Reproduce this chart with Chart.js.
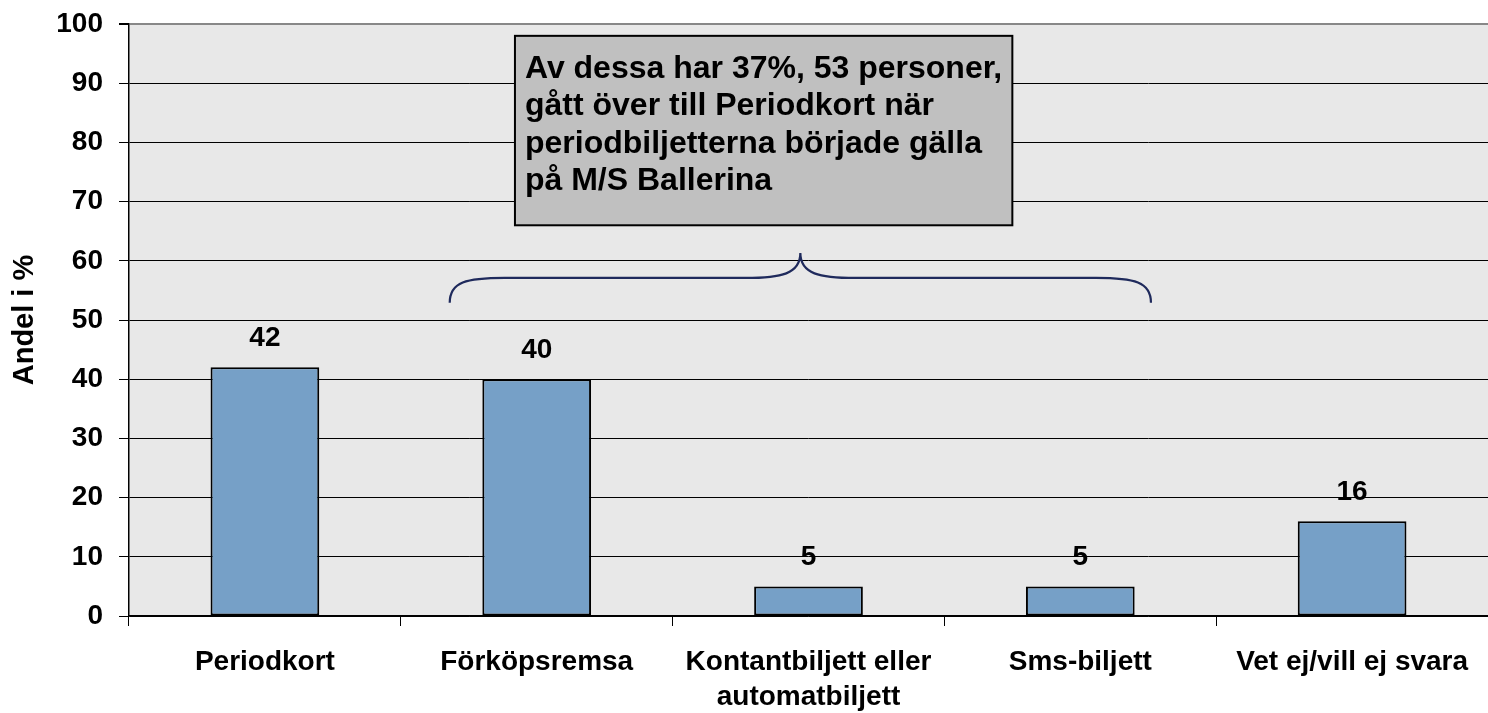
<!DOCTYPE html>
<html>
<head>
<meta charset="utf-8">
<script src="https://cdn.jsdelivr.net/npm/chart.js@4"></script>
<style>
  body { margin: 0; background: #fff; }
  #wrap { width: 1488px; height: 713px; }
</style>
</head>
<body>
<div id="wrap"><canvas id="myChart" width="1488" height="713"></canvas></div>
<script>
const categories = [
  "Periodkort",
  "Förköpsremsa",
  ["Kontantbiljett eller", "automatbiljett"],
  "Sms-biljett",
  "Vet ej/vill ej svara",
];
const values = [42, 40, 5, 5, 16];
const yTicks = [0, 10, 20, 30, 40, 50, 60, 70, 80, 90, 100];

const noteLines = [
  "Av dessa har 37%, 53 personer,",
  "gått över till Periodkort när",
  "periodbiljetterna började gälla",
  "på M/S Ballerina",
];
// box corners and brace points in data units (category index, percent)
const noteBox = { x1: 0.92, x2: 2.75, y1: 98, y2: 66 };
const brace = { left: 0.68, mid: 1.97, right: 3.26, top: 61.3, bar: 57.1, end: 52.9 };

const FONT = "'Liberation Sans', Arial, sans-serif";

// gray background behind plot area
const plotBg = {
  id: "plotBg",
  beforeDraw(chart) {
    const { ctx, chartArea: a } = chart;
    ctx.save();
    ctx.fillStyle = "#e8e8e8";
    ctx.fillRect(a.left, a.top, a.right - a.left, a.bottom - a.top);
    ctx.restore();
  },
};

// numbers above the bars
const barLabels = {
  id: "barLabels",
  afterDatasetsDraw(chart) {
    const ctx = chart.ctx;
    const meta = chart.getDatasetMeta(0);
    ctx.save();
    ctx.font = "bold 28px " + FONT;
    ctx.fillStyle = "#000";
    ctx.textAlign = "center";
    ctx.textBaseline = "middle";
    meta.data.forEach((bar, i) => {
      ctx.fillText(values[i], bar.x, bar.y - 29);
    });
    ctx.restore();
  },
};

// annotation box and curly brace
const note = {
  id: "note",
  afterDraw(chart) {
    const ctx = chart.ctx;
    const xs = chart.scales.x;
    const ys = chart.scales.y;
    ctx.save();

    const bx1 = xs.getPixelForValue(noteBox.x1);
    const bx2 = xs.getPixelForValue(noteBox.x2);
    const by1 = ys.getPixelForValue(noteBox.y1);
    const by2 = ys.getPixelForValue(noteBox.y2);
    ctx.fillStyle = "#c0c0c0";
    ctx.fillRect(bx1, by1, bx2 - bx1, by2 - by1);
    ctx.strokeStyle = "#000";
    ctx.lineWidth = 2;
    ctx.strokeRect(bx1, by1, bx2 - bx1, by2 - by1);

    ctx.fillStyle = "#000";
    ctx.font = "bold 32px " + FONT;
    ctx.textAlign = "left";
    ctx.textBaseline = "alphabetic";
    noteLines.forEach((t, i) => {
      ctx.fillText(t, bx1 + 10, by1 + 42 + i * 37.5);
    });

    const xl = xs.getPixelForValue(brace.left);
    const xm = xs.getPixelForValue(brace.mid);
    const xr = xs.getPixelForValue(brace.right);
    const yt = ys.getPixelForValue(brace.top);
    const yb = ys.getPixelForValue(brace.bar);
    const ye = ys.getPixelForValue(brace.end);
    const r = 55;
    ctx.strokeStyle = "#1f2a5c";
    ctx.lineWidth = 2.2;
    ctx.beginPath();
    ctx.moveTo(xl, ye);
    ctx.bezierCurveTo(xl, yb + 4, xl + r * 0.3, yb, xl + r, yb);
    ctx.lineTo(xm - r, yb);
    ctx.bezierCurveTo(xm - r * 0.35, yb, xm, yb - 4, xm, yt);
    ctx.bezierCurveTo(xm, yb - 4, xm + r * 0.35, yb, xm + r, yb);
    ctx.lineTo(xr - r, yb);
    ctx.bezierCurveTo(xr - r * 0.3, yb, xr, yb + 4, xr, ye);
    ctx.stroke();

    ctx.restore();
  },
};

new Chart(document.getElementById("myChart"), {
  type: "bar",
  data: {
    labels: categories,
    datasets: [
      {
        data: values,
        backgroundColor: "#76a0c7",
        borderColor: "#000",
        borderWidth: 2,
        borderSkipped: false,
        categoryPercentage: 1,
        barPercentage: 0.4,
      },
    ],
  },
  options: {
    responsive: false,
    animation: false,
    layout: { padding: 0 },
    plugins: {
      legend: { display: false },
      tooltip: { enabled: false },
    },
    scales: {
      x: {
        grid: {
          offset: true,
          drawOnChartArea: false,
          color: "#000",
          tickLength: 10,
        },
        border: { color: "#000", width: 1.5 },
        ticks: {
          color: "#000",
          font: { family: FONT, size: 28, weight: "bold", lineHeight: 1.25 },
          maxRotation: 0,
          padding: 19,
        },
        afterFit(scale) {
          scale.height = 97;
        },
      },
      y: {
        min: 0,
        max: 100,
        afterBuildTicks(scale) {
          scale.ticks = yTicks.map((v) => ({ value: v }));
        },
        grid: {
          color: (c) => (c.tick && c.tick.value === 100 ? "#888" : "#000"),
          lineWidth: (c) => (c.tick && c.tick.value === 100 ? 2 : 1),
          tickLength: 10,
          tickColor: "#000",
        },
        border: { color: "#000", width: 1.5 },
        ticks: {
          color: "#000",
          font: { family: FONT, size: 28, weight: "bold" },
          padding: 16,
        },
        title: {
          display: true,
          text: "Andel i %",
          color: "#000",
          font: { family: FONT, size: 29, weight: "bold" },
          padding: { top: 8, bottom: 0 },
        },
        afterFit(scale) {
          scale.width = 129;
          scale.paddingTop = 24;
          scale.paddingBottom = 0;
        },
      },
    },
  },
  plugins: [plotBg, barLabels, note],
});
</script>
</body>
</html>
